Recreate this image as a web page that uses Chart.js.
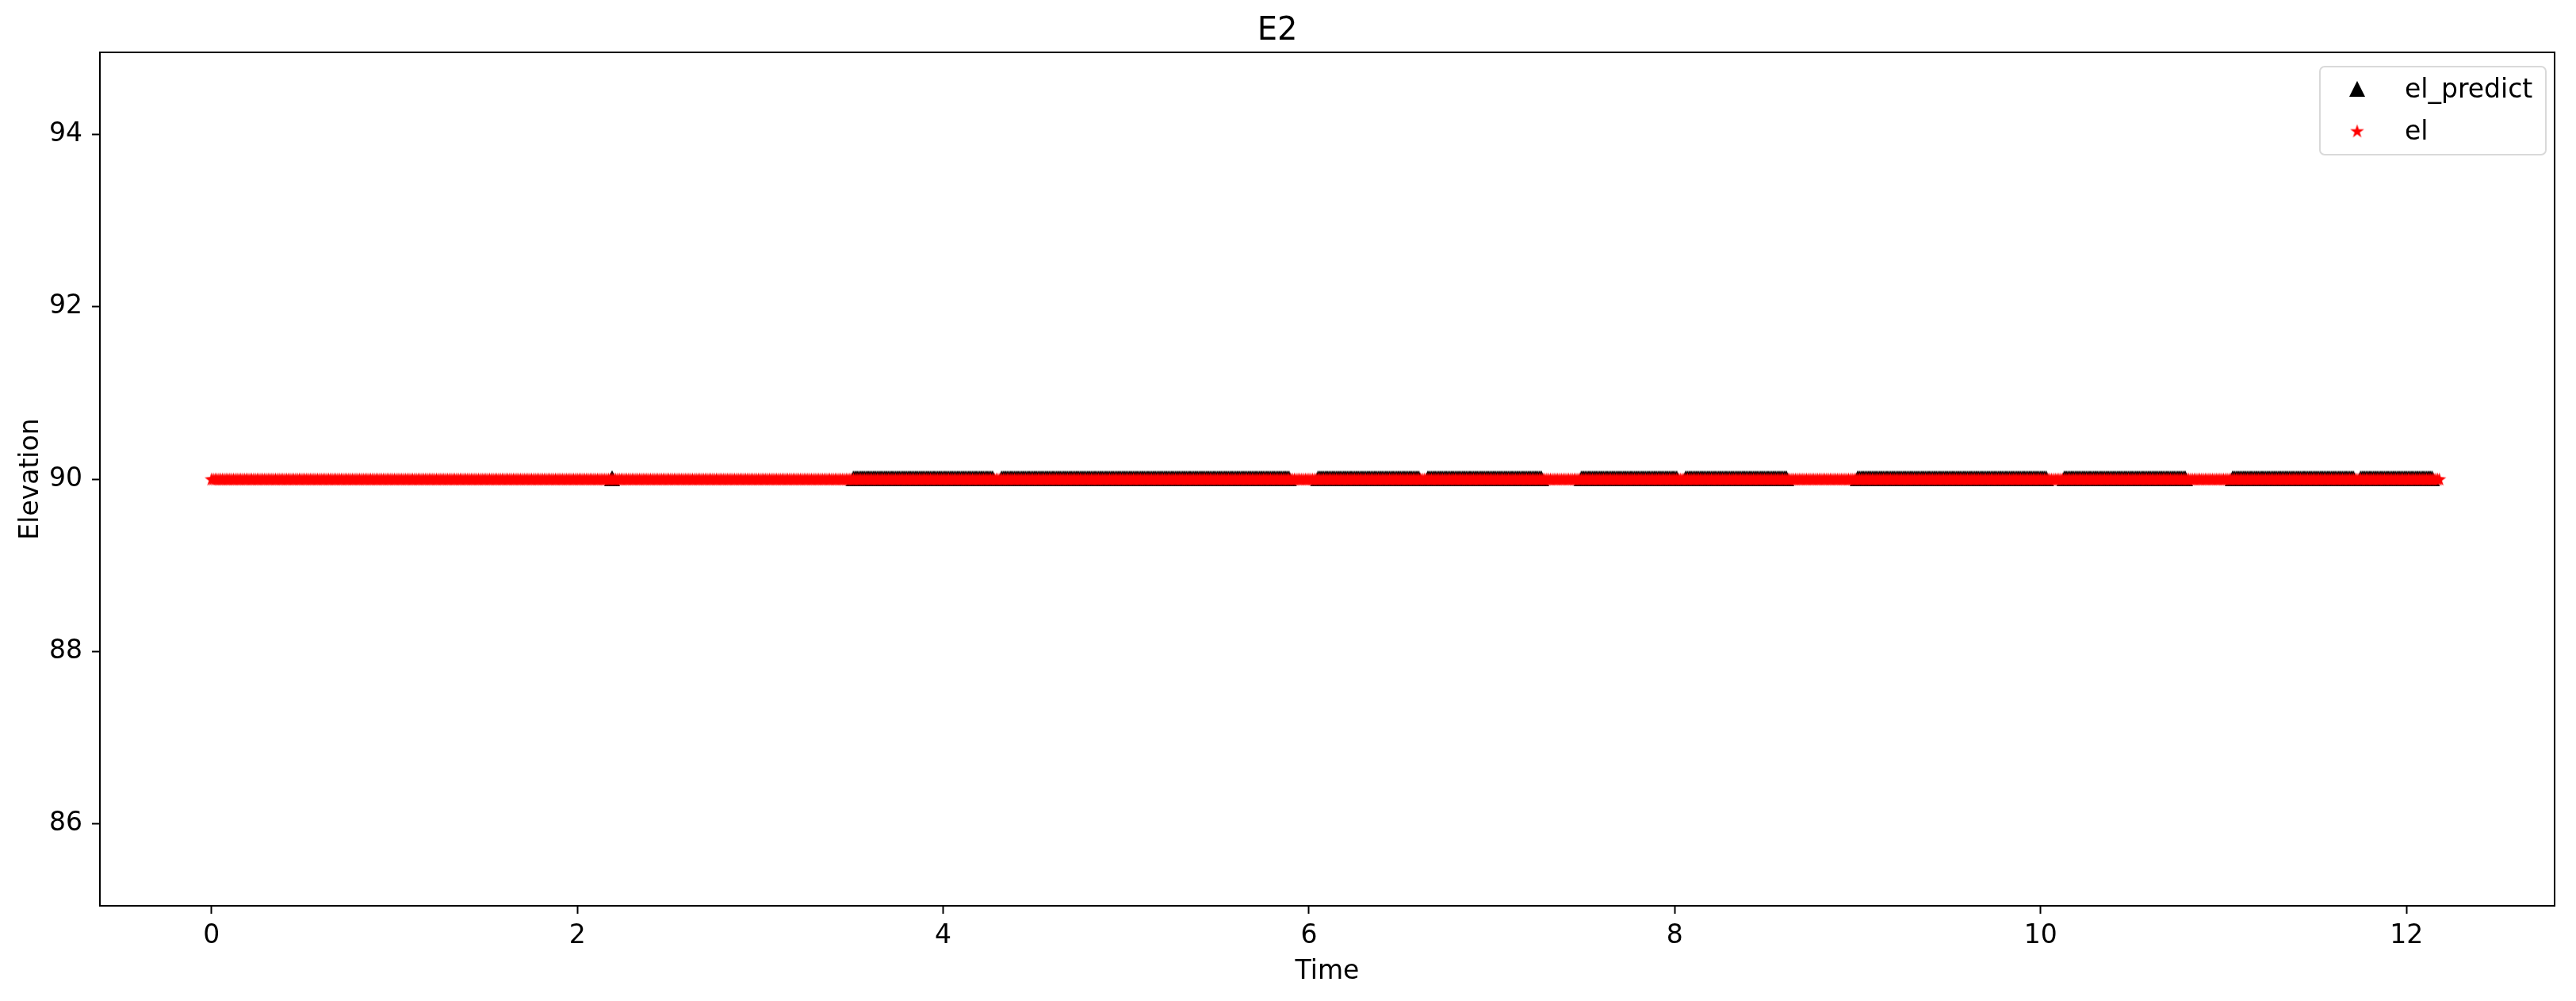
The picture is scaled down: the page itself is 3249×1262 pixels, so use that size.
<!DOCTYPE html>
<html>
<head>
<meta charset="utf-8">
<title>E2</title>
<script src="https://cdn.jsdelivr.net/npm/chart.js@4.4.0/dist/chart.umd.min.js"></script>
<style>
    html, body { margin: 0; padding: 0; background: #fff; }
    #chart-container { width: 3249px; height: 1262px; }
</style>
</head>
<body>
<div id="chart-container"><canvas id="elChart" width="3249" height="1262"></canvas></div>
<script>
// Values
var chartTitle = 'E2';
var xTitle = 'Time';
var yTitle = 'Elevation';
var predictLabel = 'el_predict';
var elLabel = 'el';
var predictValue = 90.01; // predictions sit a hair above 90
var elValue = 90;         // all measured elevations sit on 90
var sampleStep = 0.01;    // time between samples (hours)
// time spans [start, end] where samples exist
var elSpans = [[0, 12.18]];
var predictSpans = [[2.19, 2.19], [3.51, 4.27], [4.32, 5.89], [6.05, 6.60], [6.65, 7.27],
    [7.49, 8.01], [8.06, 8.61], [9.00, 10.03], [10.13, 10.79], [11.05, 11.71], [11.75, 12.14]];
var xTicks = [0, 2, 4, 6, 8, 10, 12];
var yTicks = [86, 88, 90, 92, 94];
var xRange = [-0.61, 12.81];
var yRange = [85.05, 94.95];

function spansToPoints(spans, value) {
    var pts = [];
    spans.forEach(function (s) {
        var n = Math.round((s[1] - s[0]) / sampleStep);
        for (var i = 0; i <= n; i++) {
            pts.push({ x: +(s[0] + i * sampleStep).toFixed(4), y: value });
        }
    });
    return pts;
}

// matplotlib-like markers drawn on small canvases
function triangleMarker(size, color) {
    var c = document.createElement('canvas');
    c.width = size + 2; c.height = size + 2;
    var ctx = c.getContext('2d');
    var h = size / 2, m = c.width / 2;
    ctx.fillStyle = color;
    ctx.beginPath();
    ctx.moveTo(m, m - h);
    ctx.lineTo(m - h, m + h);
    ctx.lineTo(m + h, m + h);
    ctx.closePath();
    ctx.fill();
    return c;
}

function starMarker(height, color) {
    var r = height / 1.809;
    var c = document.createElement('canvas');
    c.width = Math.ceil(2 * r) + 2; c.height = Math.ceil(2 * r) + 2;
    var ctx = c.getContext('2d');
    var cx = c.width / 2, cy = c.height / 2 + r * 0.095;
    ctx.fillStyle = color;
    ctx.beginPath();
    for (var i = 0; i < 10; i++) {
        var rad = (i % 2 == 0) ? r : r * 0.382;
        var a = -Math.PI / 2 + i * Math.PI / 5;
        var px = cx + rad * Math.cos(a), py = cy + rad * Math.sin(a);
        if (i == 0) ctx.moveTo(px, py); else ctx.lineTo(px, py);
    }
    ctx.closePath();
    ctx.fill();
    return c;
}

var triMarker = triangleMarker(20, '#000000');
var starRed = starMarker(16.5, '#ff0000');

// Box around the axes
var frameBox = {
    id: 'frameBox',
    afterDatasetsDraw: function (chart) {
        var a = chart.chartArea, ctx = chart.ctx;
        ctx.save();
        ctx.strokeStyle = '#000';
        ctx.lineWidth = 2;
        ctx.strokeRect(a.left, a.top, a.right - a.left, a.bottom - a.top);
        ctx.restore();
    }
};

// Legend box in the upper right, like matplotlib's
var boxLegend = {
    id: 'boxLegend',
    afterDraw: function (chart) {
        var a = chart.chartArea, ctx = chart.ctx;
        var w = 285, h = 111;
        var left = a.right - 11 - w, top = a.top + 18;
        ctx.save();
        ctx.fillStyle = 'rgba(255,255,255,0.8)';
        ctx.strokeStyle = '#d9d9d9';
        ctx.lineWidth = 2;
        ctx.beginPath();
        ctx.roundRect(left, top, w, h, 6);
        ctx.fill();
        ctx.stroke();
        var items = [
            { label: chart.data.datasets[0].label, img: chart.data.datasets[0].pointStyle, y: top + 28 },
            { label: chart.data.datasets[1].label, img: chart.data.datasets[1].pointStyle, y: top + 81 }
        ];
        ctx.fillStyle = '#000';
        ctx.font = '33px "DejaVu Sans"';
        ctx.textBaseline = 'alphabetic';
        ctx.textAlign = 'left';
        items.forEach(function (it) {
            ctx.drawImage(it.img, left + 47 - it.img.width / 2, it.y - it.img.height / 2);
            ctx.fillText(it.label, left + 107, it.y + 11);
        });
        ctx.restore();
    }
};

var ctx = document.getElementById('elChart').getContext('2d');
var elChart = new Chart(ctx, {
    type: 'scatter',
    data: {
        datasets: [
            {
                label: predictLabel,
                data: spansToPoints(predictSpans, predictValue),
                pointStyle: triMarker,
                pointRadius: 10,
                showLine: false,
                order: 2
            },
            {
                label: elLabel,
                data: spansToPoints(elSpans, elValue),
                pointStyle: starRed,
                pointRadius: 9,
                showLine: false,
                order: 1
            }
        ]
    },
    plugins: [frameBox, boxLegend],
    options: {
        responsive: false,
        animation: false,
        devicePixelRatio: 1,
        events: [],
        layout: { padding: { left: 0, right: 27, top: 0, bottom: 0 } },
        plugins: {
            legend: { display: false },
            tooltip: { enabled: false },
            title: {
                display: true,
                text: chartTitle,
                color: '#000',
                font: { family: 'DejaVu Sans', size: 40, weight: 'normal', lineHeight: 1.2 },
                padding: { top: 16, bottom: 2 }
            }
        },
        scales: {
            x: {
                type: 'linear',
                min: xRange[0],
                max: xRange[1],
                afterBuildTicks: function (s) { s.ticks = xTicks.map(function (v) { return { value: v }; }); },
                afterFit: function (s) { s.height = 120; },
                grid: { drawOnChartArea: false, drawTicks: true, tickLength: 10, tickWidth: 2, tickColor: '#000' },
                border: { display: true, color: '#000', width: 2 },
                ticks: {
                    color: '#000', autoSkip: false, maxRotation: 0, padding: 9,
                    font: { family: 'DejaVu Sans', size: 33 },
                    callback: function (v) { return String(v); }
                },
                title: {
                    display: true, text: xTitle, color: '#000',
                    font: { family: 'DejaVu Sans', size: 33, lineHeight: 1.2 },
                    padding: { top: 0, bottom: 17 }
                }
            },
            y: {
                type: 'linear',
                min: yRange[0],
                max: yRange[1],
                afterBuildTicks: function (s) { s.ticks = yTicks.map(function (v) { return { value: v }; }); },
                afterFit: function (s) { s.width = 126; },
                grid: { drawOnChartArea: false, drawTicks: true, tickLength: 10, tickWidth: 2, tickColor: '#000' },
                border: { display: true, color: '#000', width: 2 },
                ticks: {
                    color: '#000', padding: 12,
                    font: { family: 'DejaVu Sans', size: 33 },
                    callback: function (v) { return String(v); }
                },
                title: {
                    display: true, text: yTitle, color: '#000',
                    font: { family: 'DejaVu Sans', size: 33, lineHeight: 1.2 },
                    padding: { top: 20, bottom: 0 }
                }
            }
        }
    }
});
</script>
</body>
</html>
